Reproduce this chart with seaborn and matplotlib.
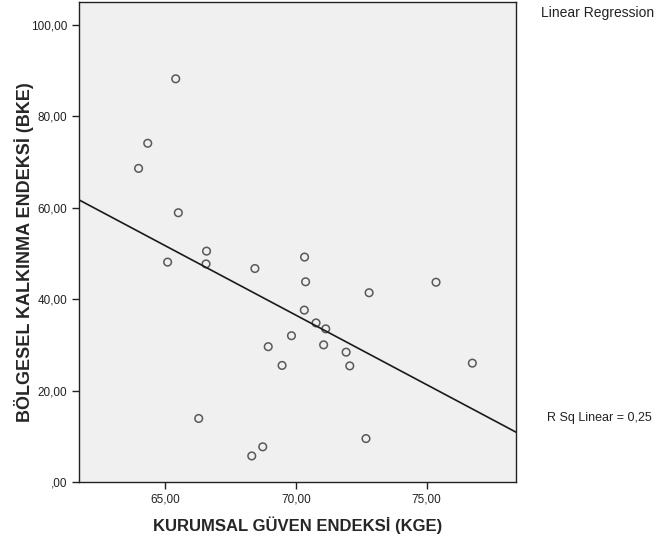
import numpy as np
import pandas as pd
import matplotlib
matplotlib.use("Agg")
import matplotlib.pyplot as plt
from matplotlib.ticker import FuncFormatter
import seaborn as sns

# KGE (x) and BKE (y) values
kge = [65.40, 64.33, 63.98, 65.50, 66.58, 65.09, 66.56, 68.43, 70.33, 70.37,
       72.80, 75.36, 70.32, 70.77, 71.14, 69.83, 68.94, 71.06, 71.92, 69.47,
       72.06, 76.75, 66.28, 72.68, 68.73, 68.31]
bke = [88.2, 74.1, 68.6, 58.9, 50.5, 48.1, 47.7, 46.7, 49.2, 43.8,
       41.4, 43.7, 37.6, 34.8, 33.5, 32.0, 29.6, 30.0, 28.4, 25.5,
       25.4, 26.0, 13.9, 9.5, 7.7, 5.7]
x_ticks = [65, 70, 75]
y_ticks = [0, 20, 40, 60, 80, 100]

df = pd.DataFrame({"KGE": kge, "BKE": bke})

sns.set_style("white")
plt.rcParams["font.family"] = ["Liberation Sans", "DejaVu Sans"]

fig = plt.figure(figsize=(6.63, 5.44), dpi=100)
ax = fig.add_axes([79 / 663, 62 / 544, 437 / 663, 480 / 544])
ax.set_facecolor("#f0f0f0")
ax.set_xlim(61.7, 78.42)
ax.set_ylim(0, 105)

sns.regplot(data=df, x="KGE", y="BKE", ax=ax, ci=None, truncate=False,
            scatter_kws={"s": 30, "facecolors": "none", "edgecolors": "#333333",
                         "linewidths": 1.1},
            line_kws={"color": "#1a1a1a", "linewidth": 1.2})
ax.set_xlim(61.7, 78.42)
ax.set_ylim(0, 105)


def spss_fmt(v, pos):
    s = f"{v:.2f}".replace(".", ",")
    return ",00" if v == 0 else s


ax.xaxis.set_major_formatter(FuncFormatter(spss_fmt))
ax.yaxis.set_major_formatter(FuncFormatter(spss_fmt))
ax.set_xticks(x_ticks)
ax.set_yticks(y_ticks)
ax.tick_params(axis="both", direction="out", length=5, width=1, color="#222222",
               labelsize=8.5, labelcolor="#222222", bottom=True, left=True)
for s in ax.spines.values():
    s.set_color("#222222")
    s.set_linewidth(1)

ax.set_xlabel("KURUMSAL GÜVEN ENDEKSİ (KGE)", fontsize=12, fontweight="bold")
ax.set_ylabel("BÖLGESEL KALKINMA ENDEKSİ (BKE)", fontsize=13, fontweight="bold")
ax.xaxis.set_label_coords(0.5, -(525 - 482) / 480)
ax.yaxis.set_label_coords((24 - 79) / 437, (482 - 252) / 480)
ax.xaxis.label.set_va("center")
ax.yaxis.label.set_va("center")

fig.text(541 / 663, 1 - 13 / 544, "Linear Regression", fontsize=10, va="center", ha="left", color="#222222")
fig.text(547 / 663, 1 - 418 / 544, "R Sq Linear = 0,25", fontsize=9, va="center", ha="left", color="#222222")

fig.savefig("out.png", dpi=100)
